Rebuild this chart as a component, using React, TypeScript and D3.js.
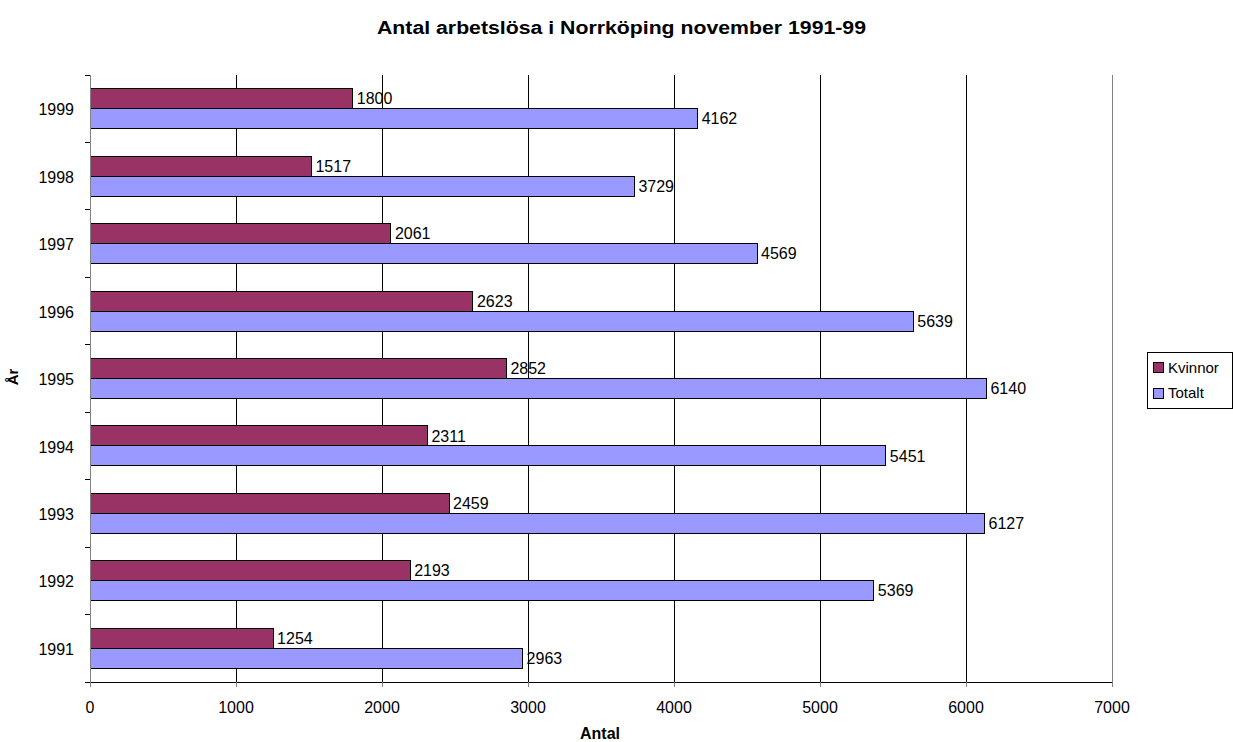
import { scaleLinear, scaleBand } from "d3";

const years = ["1999", "1998", "1997", "1996", "1995", "1994", "1993", "1992", "1991"]
const kvinnor = [1800, 1517, 2061, 2623, 2852, 2311, 2459, 2193, 1254]
const totalt = [4162, 3729, 4569, 5639, 6140, 5451, 6127, 5369, 2963]
const xTicks = [0, 1000, 2000, 3000, 4000, 5000, 6000, 7000]
const seriesNames = ["Kvinnor", "Totalt"]
const seriesColors = ["#993366", "#9999FF"]

const App = () => {
  const width = 1233
  const height = 742
  const left = 90
  const right = 1112
  const top = 75
  const bottom = 682
  const font = "'Liberation Sans', Arial, sans-serif"

  const x = scaleLinear().domain([0, 7000]).range([left, right])
  const y = scaleBand().domain(years).range([top, bottom])
  const inner = scaleBand().domain(seriesNames).range([0, 40])
  const off = (y.bandwidth() - 40) / 2

  const series = [kvinnor, totalt]

  return (
    <svg width={width} height={height} style={{ position: "absolute", left: 0, top: 0, background: "#fff" }}>
      <text x={377} y={33.5} textLength={489} lengthAdjust="spacingAndGlyphs" fontFamily={font} fontWeight="bold" fontSize={18}>
        Antal arbetslösa i Norrköping november 1991-99
      </text>

      {/* gridlines */}
      {xTicks.slice(1).map(t =>
        <line key={t} x1={x(t)} x2={x(t)} y1={top} y2={bottom} stroke={t === 7000 ? "#808080" : "#000"} strokeWidth={1} shapeRendering="crispEdges" />
      )}

      {/* bars */}
      {years.map((yr, i) =>
        <g key={yr}>
          {series.map((s, j) => {
            const by = y(yr)! + off + inner(seriesNames[j])!
            return (
              <g key={j}>
                <rect x={x(0)} y={by} width={x(s[i]) - x(0)} height={inner.bandwidth()} fill={seriesColors[j]} stroke="#000" strokeWidth={1} shapeRendering="crispEdges" />
                <text x={x(s[i]) + 4} y={by + inner.bandwidth() / 2} dy="0.35em" fontFamily={font} fontSize={16}>{s[i]}</text>
              </g>
            )
          })}
        </g>
      )}

      {/* x axis */}
      <line x1={left - 5} x2={right} y1={bottom} y2={bottom} stroke="#000" shapeRendering="crispEdges" />
      {xTicks.map(t =>
        <g key={t}>
          <line x1={x(t)} x2={x(t)} y1={bottom} y2={bottom + 5} stroke="#808080" shapeRendering="crispEdges" />
          <text x={x(t)} y={713} textAnchor="middle" fontFamily={font} fontSize={16}>{t}</text>
        </g>
      )}
      <text x={600} y={739} textAnchor="middle" fontFamily={font} fontWeight="bold" fontSize={16}>Antal</text>

      {/* y axis */}
      <line x1={left} x2={left} y1={top} y2={bottom + 5} stroke="#808080" shapeRendering="crispEdges" />
      {years.map(yr =>
        <line key={yr} x1={left - 5} x2={left} y1={y(yr)!} y2={y(yr)!} stroke="#000" shapeRendering="crispEdges" />
      )}
      {years.map(yr =>
        <text key={yr} x={left - 16} y={y(yr)! + y.bandwidth() / 2 + 1} dy="0.35em" textAnchor="end" fontFamily={font} fontSize={16}>{yr}</text>
      )}
      <text transform={`translate(18, 377) rotate(-90)`} textAnchor="middle" fontFamily={font} fontWeight="bold" fontSize={15}>År</text>

      {/* legend */}
      <rect x={1147.5} y={352.5} width={85} height={56} fill="#fff" stroke="#000" shapeRendering="crispEdges" />
      {seriesNames.map((n, j) =>
        <g key={n}>
          <rect x={1153.5} y={362.5 + j * 26} width={10} height={10} fill={seriesColors[j]} stroke="#000" shapeRendering="crispEdges" />
          <text x={1168} y={368 + j * 25} dy="0.35em" fontFamily={font} fontSize={15}>{n}</text>
        </g>
      )}
    </svg>
  )
}

export default App;
